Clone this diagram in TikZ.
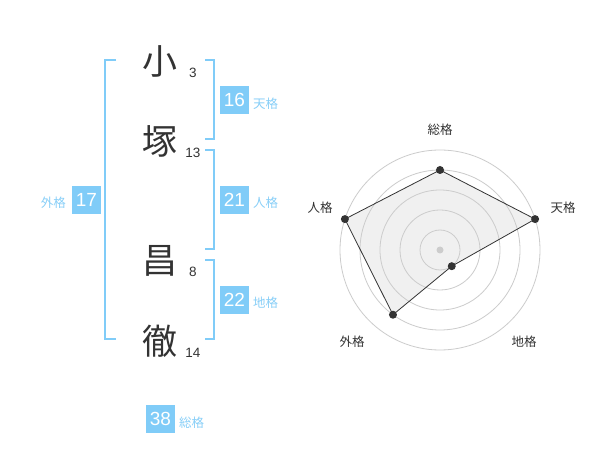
\documentclass[tikz,border=0pt]{standalone}
\usepackage{fontspec}
\setmainfont{Liberation Sans}
\newfontfamily\jp{Noto Sans CJK JP}
\definecolor{bl}{HTML}{80CCF8}
\definecolor{lbl}{HTML}{88CFF8}
\definecolor{ink}{HTML}{333333}
\definecolor{ring}{HTML}{CCCCCC}
\definecolor{area}{HTML}{F0F0F0}
\begin{document}
\begin{tikzpicture}[x=1pt,y=-1pt,
  kanji/.style={font=\jp\fontsize{35}{35}\selectfont, text=ink, inner sep=0},
  strokes/.style={font=\fontsize{13.5}{13.5}\selectfont, text=ink, inner sep=0},
  numbox/.style={fill=bl, text=white, minimum width=29, minimum height=28, inner sep=0, font=\fontsize{19}{19}\selectfont},
  kaku/.style={font=\jp\fontsize{12.5}{12.5}\selectfont, text=lbl, inner sep=0},
  brk/.style={draw=bl, line width=2},
  rlabel/.style={font=\jp\fontsize{12.5}{12.5}\selectfont, text=ink, inner sep=0},
  dot/.style={circle, fill=ink, minimum size=8, inner sep=0},
]
\useasboundingbox (0,0) rectangle (600,470);
\fill[white] (0,0) rectangle (600,470);

% kanji and stroke counts
\node[kanji] (k1) at (160,61) {小};
\node[kanji] (k2) at (160,141) {塚};
\node[kanji] (k3) at (160,261) {昌};
\node[kanji] (k4) at (160,341) {徹};
\node[strokes] (s1) at (193,73) {3};
\node[strokes] (s2) at (193,153) {13};
\node[strokes] (s3) at (193,272) {8};
\node[strokes] (s4) at (193,353) {14};

% brackets
\draw[brk] (116,60) -- (105,60) -- (105,339) -- (116,339);
\draw[brk] (205,60) -- (214,60) -- (214,139) -- (205,139);
\draw[brk] (205,150) -- (214,150) -- (214,249) -- (205,249);
\draw[brk] (205,260) -- (214,260) -- (214,339) -- (205,339);

% score boxes
\node[numbox] (ten) at (234.5,100) {16};
\node[kaku, anchor=west] (tenl) at (253,104) {天格};
\node[numbox] (jin) at (234.5,200) {21};
\node[kaku, anchor=west] (jinl) at (253,203) {人格};
\node[numbox] (chi) at (234.5,300) {22};
\node[kaku, anchor=west] (chil) at (253,303) {地格};
\node[numbox] (gai) at (86.5,200) {17};
\node[kaku, anchor=east] (gail) at (66,203) {外格};
\node[numbox] (sou) at (160.5,419) {38};
\node[kaku, anchor=west] (soul) at (179,423) {総格};

% radar chart
\begin{scope}[shift={(440,250)}, x=1pt, y=1pt]
  \coordinate (p1) at (90:80);
  \coordinate (p2) at (18:100);
  \coordinate (p3) at (-54:20);
  \coordinate (p4) at (-126:80);
  \coordinate (p5) at (162:100);
  \fill[area] (p1) -- (p2) -- (p3) -- (p4) -- (p5) -- cycle;
  \foreach \r in {20,40,60,80,100}
    \draw[ring, line width=0.8] (0,0) circle[radius=\r];
  \fill[ring] (0,0) circle[radius=3.5];
  \draw[ink, line width=0.8] (p1) -- (p2) -- (p3) -- (p4) -- (p5) -- cycle;
  \foreach \n in {p1,p2,p3,p4,p5} \fill[ink] (\n) circle[radius=4];
  \node[rlabel] (l1) at (0,120) {総格};
  \node[rlabel] (l2) at (123,42) {天格};
  \node[rlabel] (l3) at (84,-92) {地格};
  \node[rlabel] (l4) at (-88,-92) {外格};
  \node[rlabel] (l5) at (-120,42) {人格};
\end{scope}
\end{tikzpicture}
\end{document}
